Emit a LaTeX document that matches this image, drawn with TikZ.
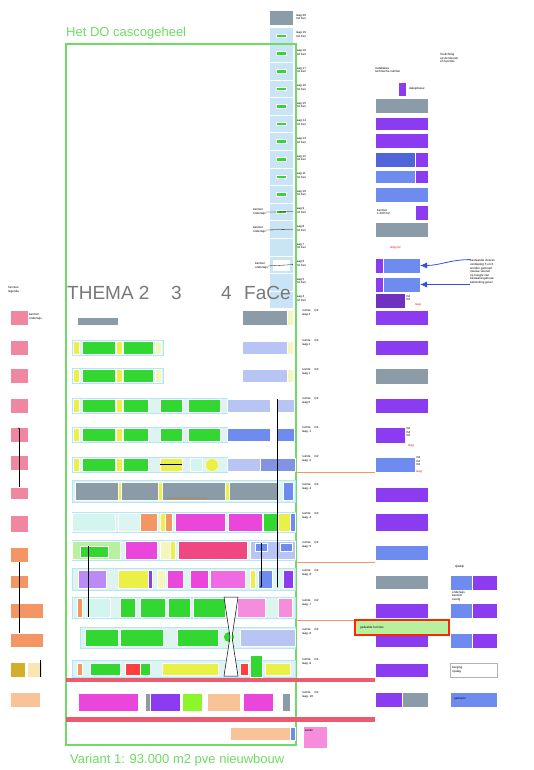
\documentclass[tikz,border=0pt]{standalone}
\usepackage{fontspec}
\setmainfont{Liberation Sans}
\usetikzlibrary{arrows.meta,positioning}
\definecolor{dogreen}{RGB}{110,220,100}
\definecolor{colblue}{RGB}{200,228,245}
\definecolor{blkgreen}{RGB}{50,215,50}
\definecolor{rowcyan}{RGB}{222,244,240}
\definecolor{dogrey}{RGB}{140,155,168}
\definecolor{lav}{RGB}{184,196,244}
\definecolor{midblue}{RGB}{110,140,240}
\definecolor{royal}{RGB}{80,100,220}
\definecolor{violet2}{RGB}{140,60,240}
\definecolor{magent}{RGB}{235,70,220}
\definecolor{pinkred}{RGB}{240,70,130}
\definecolor{orng}{RGB}{244,150,100}
\definecolor{peach}{RGB}{248,195,150}
\definecolor{yel}{RGB}{235,240,70}
\definecolor{lyel}{RGB}{245,245,190}
\definecolor{pinkleg}{RGB}{240,135,160}
\definecolor{redline}{RGB}{235,90,110}
\definecolor{lgreen}{RGB}{185,240,160}
\definecolor{lcyan}{RGB}{210,245,240}
\definecolor{olive}{RGB}{210,175,40}
\definecolor{beige}{RGB}{248,230,180}
\definecolor{thgrey}{RGB}{120,120,120}
\definecolor{pinkbox}{RGB}{245,140,220}
\definecolor{arrblue}{RGB}{50,80,220}

\begin{document}
\begin{tikzpicture}[x=1pt,y=-1pt,
    blk/.style={draw=white,line width=0.3pt,inner sep=0,outer sep=0,anchor=north west},
    rowbg/.style={blk,draw=cyan!30,fill=rowcyan},
    lbl/.style={font=\fontsize{3}{3.6}\selectfont,align=left,anchor=west,inner sep=0},
    bigtxt/.style={font=\fontsize{13}{15}\selectfont,text=dogreen,anchor=west,inner sep=0},
    thtxt/.style={font=\fontsize{19}{21}\selectfont,text=thgrey,anchor=west,inner sep=0}]
  \useasboundingbox (0,0) rectangle (533,770);
  \fill[white] (0,0) rectangle (533,770);

  % tall column with floors
  \node[blk,fill=dogrey,minimum width=24pt,minimum height=15pt] (ctop) at (269,10) {};
  \foreach \i in {0,...,15}{
    \node[blk,fill=colblue,minimum width=24pt,minimum height=17.6pt] (cc\i) at (269,{27+\i*17.6}) {};
    \ifnum\i<11
      \node[blk,fill=blkgreen,minimum width=10pt,minimum height=3.5pt] (cg\i) at (276,{34+\i*17.6}) {};
    \fi
  }
  \node[blk,fill=white,draw=colblue,minimum width=18pt,minimum height=12pt] (cw) at (272,{30+13*17.6}) {};
  \foreach \i in {0,...,16}{
    \pgfmathtruncatemacro{\lv}{20-\i}
    \node[lbl] (cl\i) at (296,{17+\i*17.6}) {laag \lv\\m2 bvo};
  }
  \node[lbl,anchor=east] (nt1) at (266,212) {kantoor\\onderwijs};
  \node[lbl,anchor=east] (nt2) at (266,230) {kantoor\\onderwijs};
  \node[lbl,anchor=east] (nt3) at (268,266) {kantoor\\onderwijs};
  \draw[line width=0.3pt] (nt1.east) -- (cc10.east);
  \draw[line width=0.3pt] (nt2.east) -- (cc11.east);
  \draw[line width=0.3pt] (nt3.east) -- (cc13.east);

  % frame
  \draw[dogreen,line width=2.2pt] (66,44) rectangle (296,745);
  \node[bigtxt] (title) at (66,33) {Het DO cascogeheel};
  \node[bigtxt] (foot) at (70,760) {Variant 1: 93.000 m2 pve nieuwbouw};
  \node[thtxt] (th2) at (67,293) {THEMA 2};
  \node[thtxt] (th3) at (171,293) {3};
  \node[thtxt] (th4) at (221,293) {4};
  \node[thtxt] (thf) at (244,293) {FaCe};

  % rows 1 to 3
  \foreach \x/\y/\w/\h/\c [count=\i] in {77/317/41/8/dogrey,242/310/45/15/dogrey,287/310/6/15/lyel}{
    \node[blk,fill=\c,minimum width=\w pt,minimum height=\h pt] (ra\i) at (\x,\y) {};}
  \foreach \y [count=\r] in {340,368}{
    \node[rowbg,minimum width=91pt,minimum height=15pt] (rb\r) at (72,\y) {};
    \foreach \x/\w/\c [count=\i] in {73/6/yel,82/33/blkgreen,116/6/yel,123/30/blkgreen,155/6/lyel,242/45/lav,287/6/lyel}{
      \node[blk,fill=\c,minimum width=\w pt,minimum height=13pt] (r\r b\i) at (\x,\y+1) {};}
  }
  % rows 4 to 6
  \foreach \y/\ca/\cb [count=\r] in {398/lav/lav,427/midblue/midblue}{
    \node[rowbg,minimum width=155pt,minimum height=15pt] (rc\r) at (72,\y) {};
    \foreach \x/\w/\c [count=\i] in {73/6/yel,82/33/blkgreen,116/6/yel,123/25/blkgreen,160/22/blkgreen,188/32/blkgreen,227/43/\ca,277/17/\cb}{
      \node[blk,fill=\c,minimum width=\w pt,minimum height=13pt] (s\r b\i) at (\x,\y+1) {};}
  }
  \node[rowbg,minimum width=155pt,minimum height=15pt] (rd) at (72,457) {};
  \foreach \x/\w/\c [count=\i] in {73/6/yel,82/33/blkgreen,116/6/yel,123/25/blkgreen,160/22/yel,190/12/lcyan,227/33/lav,260/35/royal!70}{
    \node[blk,fill=\c,minimum width=\w pt,minimum height=13pt] (t\i) at (\x,458) {};}
  \node[circle,fill=yel,draw=white,minimum size=13pt,inner sep=0] (tc) at (212,465) {};
  \draw[line width=0.5pt] (t5.west) -- (t5.east);
  % row 7
  \node[rowbg,minimum width=223pt,minimum height=22pt] (re) at (72,480) {};
  \foreach \x/\w/\c [count=\i] in {75/43/dogrey,118/3/yel,121/37/dogrey,158/4/yel,162/63/dogrey,225/4/yel,229/48/dogrey,283/10/midblue}{
    \node[blk,fill=\c,minimum width=\w pt,minimum height=18pt] (u\i) at (\x,482) {};}
  \draw[line width=1pt,brown] (u5.south west) ++(5,-2) -- ++(40,0);
  % row 8
  \node[rowbg,minimum width=223pt,minimum height=20pt] (rf) at (72,512) {};
  \foreach \x/\w/\c [count=\i] in {72/43/lcyan,118/22/rowcyan,140/17/orng,160/5/yel,165/7/orng,175/50/magent,228/34/magent,263/15/blkgreen,278/12/yel,290/5/midblue}{
    \node[blk,fill=\c,minimum width=\w pt,minimum height=18pt] (v\i) at (\x,513) {};}
  % row 9
  \node[rowbg,minimum width=223pt,minimum height=20pt] (rg) at (72,540) {};
  \foreach \x/\w/\c [count=\i] in {72/48/lgreen,125/32/magent,160/10/lyel,170/5/yel,178/69/pinkred,250/45/lav}{
    \node[blk,fill=\c,minimum width=\w pt,minimum height=18pt] (w\i) at (\x,541) {};}
  \node[blk,fill=blkgreen,minimum width=28pt,minimum height=11pt] (w7) at (80,546) {};
  \node[blk,fill=midblue,minimum width=12pt,minimum height=8pt] (w8) at (255,543) {};
  \node[blk,fill=midblue,minimum width=12pt,minimum height=8pt] (w9) at (280,543) {};
  % row 10
  \node[rowbg,minimum width=223pt,minimum height=22pt] (rh) at (72,568) {};
  \foreach \x/\w/\c [count=\i] in {78/28/violet2!60,118/30/yel,148/4/violet2,157/8/lyel,167/16/magent,190/18/magent,210/35/magent!80,250/5/yel,258/14/midblue,283/10/violet2}{
    \node[blk,fill=\c,minimum width=\w pt,minimum height=18pt] (x\i) at (\x,570) {};}
  % row 11
  \node[rowbg,minimum width=223pt,minimum height=21pt] (ri) at (72,597) {};
  \foreach \x/\w/\c [count=\i] in {77/5/orng,85/25/lcyan,120/15/blkgreen,140/25/blkgreen,168/22/blkgreen,193/32/blkgreen,237/28/pinkbox,278/14/pinkbox}{
    \node[blk,fill=\c,minimum width=\w pt,minimum height=19pt] (y\i) at (\x,598) {};}
  % row 12
  \node[rowbg,minimum width=215pt,minimum height=21pt] (rj) at (80,627) {};
  \foreach \x/\w/\c [count=\i] in {85/33/blkgreen,120/43/blkgreen,177/41/blkgreen,240/55/lav}{
    \node[blk,fill=\c,minimum width=\w pt,minimum height=17pt] (z\i) at (\x,629) {};}
  \node[circle,fill=blkgreen,draw=white,minimum size=11pt,inner sep=0] (zc) at (229,637) {};
  % row 13
  \node[rowbg,minimum width=223pt,minimum height=17pt] (rk) at (72,660) {};
  \foreach \x/\w/\c [count=\i] in {77/5/orng,90/30/blkgreen,125/15/red!75,140/10/blkgreen,162/56/yel,240/8/red!75,265/25/yel}{
    \node[blk,fill=\c,minimum width=\w pt,minimum height=12pt] (q\i) at (\x,663) {};}
  \node[blk,fill=blkgreen,minimum width=12pt,minimum height=22pt] (q8) at (250,655) {};
  % hourglass
  \draw[fill=white,line width=0.5pt] (224,597) -- (238,597) -- (232,637) -- (238,676) -- (224,676) -- (230,637) -- cycle;
  % row 14 and 15
  \foreach \x/\w/\c [count=\i] in {78/60/magent,145/5/dogrey,150/30/violet2,182/20/yel!60!green,207/33/peach,243/30/magent,282/8/dogrey}{
    \node[blk,fill=\c,minimum width=\w pt,minimum height=18pt] (p\i) at (\x,693) {};}
  \node[blk,fill=peach,minimum width=60pt,minimum height=13pt] (o1) at (230,727) {};
  \node[blk,fill=midblue,minimum width=5pt,minimum height=13pt] (o2) at (290,727) {};
  \fill[redline] (66,678) rectangle (375,682);
  \fill[redline] (66,717) rectangle (375,722);
  \node[blk,fill=pinkbox,minimum width=24pt,minimum height=22pt] (pk) at (303,726) {};
  \node[lbl] (pkt) at (305,730) {kelder};

  % vertical lines inside
  \draw[line width=0.6pt,-{Latex[length=2pt]}] (s1b8.north west) ++(0.5,0) coordinate (va) -- (va |- x10.south);
  \draw[line width=0.6pt,-{Latex[length=2pt]}] (w8.north) -- (w8 |- x1.south);
  \draw[line width=0.6pt] (w7.north) ++(-6,0) coordinate (vb) -- (vb |- y2.south);

  % row labels right of frame
  \foreach \y/\t [count=\i] in {313/laag 3,343/laag 2,372/laag 1,401/laag 0,430/laag -1,459/laag -2,487/laag -3,516/laag -4,545/laag -5,573/laag -6,603/laag -7,632/laag -8,662/laag -9,695/laag -10}{
    \node[lbl] (rl\i) at (302,\y) {ruimte \quad m2\\\t};}
  \draw[orng,line width=0.8pt] (296,472) -- (375,472);
  \draw[orng,line width=0.8pt] (296,562) -- (375,562);
  \draw[orng,line width=0.8pt] (296,620) -- (355,620);

  % purple column
  \node[lbl] (ph1) at (375,70) {installaties\\technische ruimten};
  \node[lbl] (ph2) at (440,58) {Toelichting\\op de kleuren\\en functies};
  \node[blk,fill=violet2,minimum width=8pt,minimum height=14pt] (pq) at (398,82) {};
  \node[lbl] (pqt) at (409,89) {dakopbouw};
  \foreach \y/\h/\c [count=\i] in {98/15/dogrey,117/13/violet2,133/15/violet2,152/15/royal,170/13/midblue,187/15/midblue,205/15/white,222/15/dogrey,310/15/violet2,340/15/violet2,368/16/dogrey,398/15/violet2,487/15/violet2,513/18/violet2,545/15/midblue,575/14/dogrey,603/15/violet2,633/14/violet2,663/14/violet2}{
    \node[blk,fill=\c,minimum width=53pt,minimum height=\h pt] (pc\i) at (375,\y) {};}
  \node[blk,fill=violet2,minimum width=13pt,minimum height=15pt] (pa1) at (415,152) {};
  \node[blk,fill=violet2,minimum width=13pt,minimum height=13pt] (pa2) at (415,170) {};
  \node[blk,fill=violet2,minimum width=13pt,minimum height=15pt] (pa3) at (415,205) {};
  \node[lbl] (pat) at (377,212) {kantoor\\1.200 m2};
  \node[lbl,text=red] (prt) at (390,248) {leeg m2};
  \node[blk,fill=violet2,minimum width=8pt,minimum height=15pt] (bar1p) at (375,258) {};
  \node[blk,fill=midblue,minimum width=37pt,minimum height=15pt] (bar1) at (383,258) {};
  \node[blk,fill=violet2,minimum width=8pt,minimum height=15pt] (bar2p) at (375,277) {};
  \node[blk,fill=midblue,minimum width=37pt,minimum height=15pt] (bar2) at (383,277) {};
  \node[blk,fill=violet2!80!black,minimum width=30pt,minimum height=15pt] (pd) at (375,293) {};
  \node[lbl] (pdt) at (406,298) {m2\\m2};
  \node[lbl,text=red] (pdr) at (415,305) {leeg};
  \node[blk,fill=violet2,minimum width=30pt,minimum height=16pt] (pe) at (375,427) {};
  \node[lbl] (pet) at (406,432) {m2\\m2\\m2};
  \node[lbl,text=red] (per) at (408,446) {leeg};
  \node[blk,fill=midblue,minimum width=40pt,minimum height=15pt] (pf) at (375,457) {};
  \node[lbl] (pft) at (416,461) {m2\\m2\\m2};
  \node[lbl,text=red] (pfr) at (416,472) {leeg};
  \node[blk,fill=violet2,minimum width=27pt,minimum height=15pt] (pg1) at (375,692) {};
  \node[blk,fill=dogrey,minimum width=26pt,minimum height=15pt] (pg2) at (402,692) {};

  % blue notes
  \node[lbl] (bt) at (470,272) {bestaande vloeren\\verdieping 5 en 6\\worden gesloopt\\nieuwe vloeren\\op hoogte van\\bestaand gebouw\\aansluiting gevel};
  \draw[arrblue,line width=0.8pt,-{Latex[length=7pt,width=6pt]}] (bt.north west) to[out=180,in=0] (bar1.east);
  \draw[arrblue,line width=0.8pt,-{Latex[length=7pt,width=6pt]}] (bt.south west) to[out=180,in=0] (bar2.east);

  % green box with red border
  \node[blk,fill=lgreen,draw=red!70!orange,line width=1.5pt,minimum width=94pt,minimum height=15pt] (gb) at (355,620) {};
  \node[lbl] (gbt) at (360,627.5) {gedeelde functies};

  % far right column
  \node[lbl] (fh) at (455,567) {tijdelijk};
  \foreach \y [count=\i] in {575,603,633}{
    \node[blk,fill=midblue,minimum width=22pt,minimum height=15pt] (fa\i) at (450,\y) {};
    \node[blk,fill=violet2,minimum width=25pt,minimum height=15pt] (fb\i) at (472,\y) {};}
  \node[lbl] (fat) at (452,596) {onderwijs\\kantoor\\overig};
  \node[blk,fill=white,draw=black!30,minimum width=47pt,minimum height=14pt] (fc) at (450,663) {};
  \node[lbl] (fct) at (452,670) {berging\\opslag};
  \node[blk,fill=midblue,minimum width=47pt,minimum height=15pt] (fd) at (450,692) {};
  \node[lbl] (fdt) at (454,699) {parkeren};

  % legend left
  \node[lbl] (lh) at (8,290) {functies\\legenda};
  \foreach \y/\w/\h/\c [count=\i] in {310/18/15/pinkleg,340/18/15/pinkleg,368/18/15/pinkleg,398/18/15/pinkleg,427/18/15/pinkleg,455/18/15/pinkleg,487/18/12/pinkleg,515/18/17/pinkleg,547/18/15/orng,575/18/13/orng,603/33/15/orng,633/33/14/orng,662/15/15/olive,692/30/15/peach}{
    \node[blk,fill=\c,minimum width=\w pt,minimum height=\h pt] (lg\i) at (10,\y) {};}
  \node[blk,fill=beige,minimum width=15pt,minimum height=15pt] (lgb) at (27,662) {};
  \node[lbl] (lgt) at (29,317) {kantoor\\onderwijs};
  \draw[line width=0.5pt,-{Latex[length=2pt]}] (lg7.north) -- (lg5.north);
  \draw[line width=0.5pt] (lg9.south) -- (lg12.north -| lg9.south);
  \draw[line width=0.5pt] (lgb.north) ++(6,-2) coordinate (lb) -- (lb |- lgb.south);
\end{tikzpicture}
\end{document}
